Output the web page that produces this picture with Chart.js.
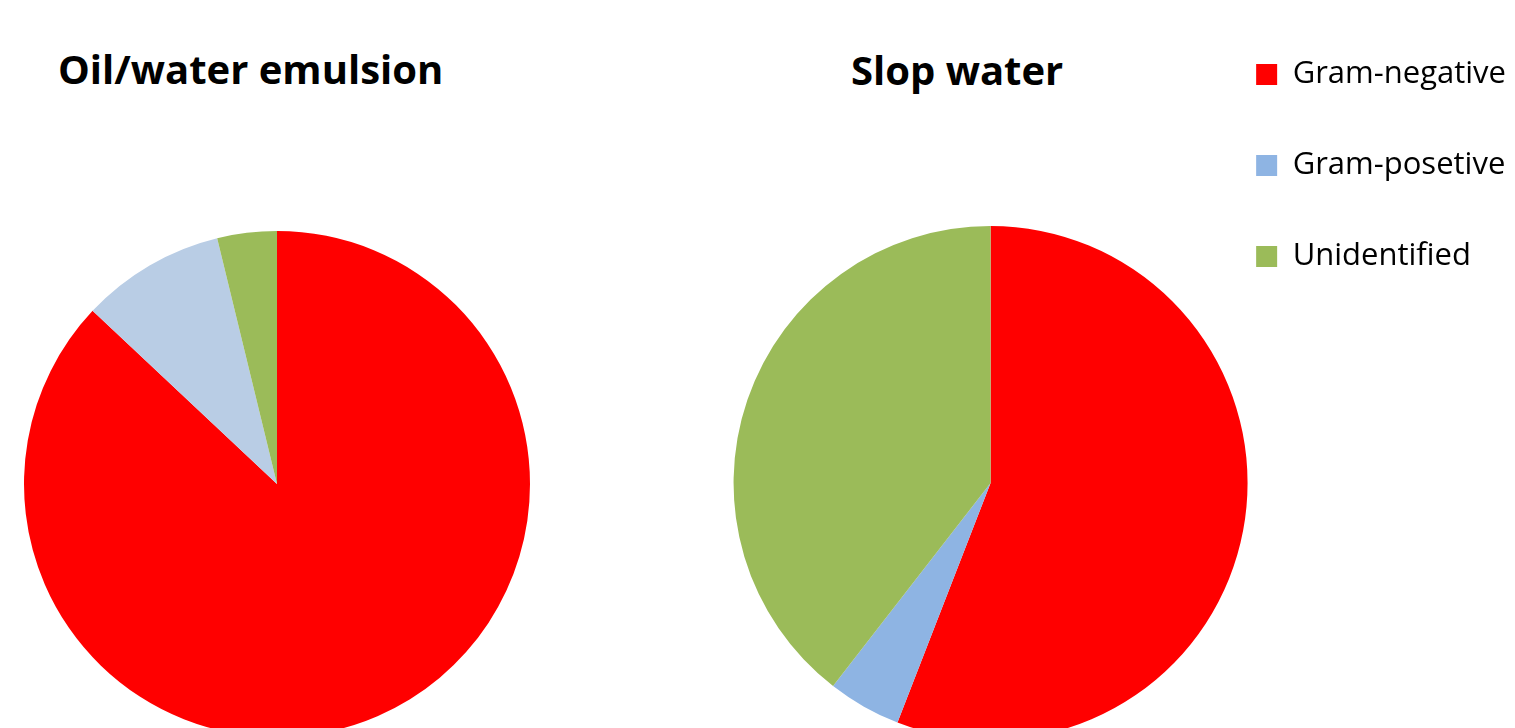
<!DOCTYPE html>
<html>
<head>
<meta charset="utf-8">
<title>Gram staining</title>
<script src="https://cdn.jsdelivr.net/npm/chart.js@4"></script>
<style>
  html, body { margin: 0; padding: 0; background: #fff; overflow: hidden; }
  body { width: 1515px; height: 728px; position: relative; }
  .title { position: absolute; font-family: "Open Sans", sans-serif; font-weight: 700; font-size: 40px; color: #000; white-space: nowrap; line-height: 1; }
  canvas { position: absolute; }
</style>
</head>
<body>
<div class="title" id="title1" style="left:58px; top:49px;">Oil/water emulsion</div>
<div class="title" id="title2" style="left:851px; top:50px;">Slop water</div>
<canvas id="oilChart" width="554" height="968" style="left:0; top:0;"></canvas>
<canvas id="slopChart" width="816" height="968" style="left:700px; top:-1px;"></canvas>
<script>
// categories shared by both pies
const labels = ['Gram-negative', 'Gram-posetive', 'Unidentified'];

// percentages
const oilValues = [87.0, 9.2, 3.8];
const slopValues = [55.9, 4.6, 39.5];

const oilColors = ['#FF0000', '#B9CDE5', '#9BBB59'];
const slopColors = ['#FF0000', '#8EB4E3', '#9BBB59'];

const baseOptions = {
    responsive: false,
    animation: false,
    plugins: {
        tooltip: { enabled: false },
        title: { display: false }
    }
};

new Chart(document.getElementById('oilChart').getContext('2d'), {
    type: 'pie',
    data: {
        labels: labels,
        datasets: [{
            data: oilValues,
            backgroundColor: oilColors,
            borderWidth: 0,
            radius: 253,
            clip: false
        }]
    },
    options: {
        ...baseOptions,
        plugins: { ...baseOptions.plugins, legend: { display: false } }
    }
});

new Chart(document.getElementById('slopChart').getContext('2d'), {
    type: 'pie',
    data: {
        labels: labels,
        datasets: [{
            data: slopValues,
            backgroundColor: slopColors,
            borderWidth: 0,
            radius: 257,
            clip: false
        }]
    },
    options: {
        ...baseOptions,
        layout: { padding: { left: 85 } },
        plugins: {
            ...baseOptions.plugins,
            legend: {
                display: true,
                position: 'right',
                align: 'start',
                labels: {
                    boxWidth: 21,
                    boxHeight: 21,
                    padding: 60,
                    color: '#000',
                    font: { family: '"Open Sans", sans-serif', size: 31 }
                }
            }
        }
    }
});
</script>
</body>
</html>
